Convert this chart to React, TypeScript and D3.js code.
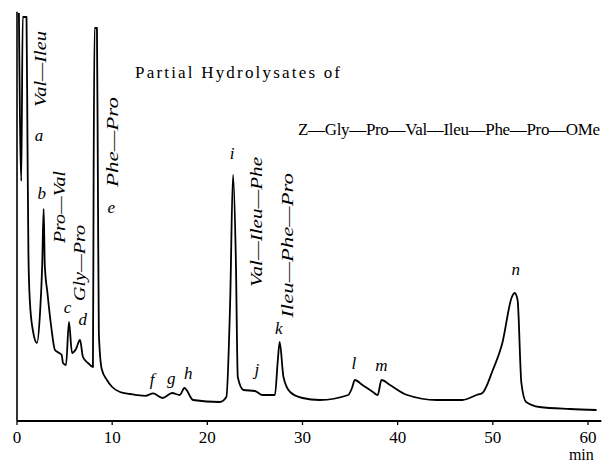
import React from 'react';
import * as d3 from 'd3';

// chromatogram trace, [minutes, detector signal]
const trace: [number, number][] = [
  [0.2, 102], [0.45, 60], [0.6, 101], [1.0, 101], [1.1, 70], [1.2, 42], [1.35, 30],
  [1.68, 22.5], [2.1, 19.5], [2.42, 27], [2.65, 39], [2.8, 53], [2.92, 39], [3.2, 32],
  [3.6, 23.5], [3.99, 17.75], [4.3, 17.2], [4.7, 16.5], [4.83, 14.5], [5.15, 14],
  [5.46, 24.75], [5.78, 17], [6.2, 18], [6.62, 20.25], [6.93, 16], [7.46, 14.5],
  [7.98, 13.5], [8.05, 60], [8.15, 98.25], [8.4, 98.25], [8.5, 60], [8.6, 22], [8.9, 13],
  [9.45, 10.25], [10.0, 8.5], [10.82, 7.25], [11.87, 6.75], [13.5, 6.3], [14.3, 6.9],
  [15.3, 5.75], [16.3, 7.0], [17.1, 6.5], [17.6, 8.25], [18.5, 5.25], [21.3, 4.75],
  [22.0, 6.0], [22.4, 30], [22.7, 61.5], [23.0, 40], [23.2, 11], [23.8, 7.75],
  [25.0, 7.5], [25.8, 6.5], [27.1, 6.5], [27.4, 15], [27.6, 19.75], [28.0, 11],
  [28.7, 7.25], [30.0, 5.75], [31.8, 5.25], [34.8, 6.5], [35.2, 8.25], [35.5, 10.25],
  [36.3, 9], [37.4, 7.25], [37.9, 6.5], [38.3, 10.25], [39.2, 9], [41.0, 6.5],
  [44.1, 5.25], [46.8, 5.25], [48.3, 6.5], [48.9, 7.0], [50.0, 12.75], [51.0, 19.5],
  [52.0, 31], [52.3, 32], [52.6, 30.25], [53.0, 9.5], [53.5, 4.75], [54.9, 3.5],
  [58.1, 3], [60.9, 2.75],
];

// peak letters: [letter, minutes, signal]
const peakLetters: [string, number, number][] = [
  ['a', 2.3, 70], ['b', 2.6, 55.5], ['c', 5.3, 27], ['d', 6.9, 24],
  ['e', 9.9, 52], ['f', 14.2, 9], ['g', 16.2, 9.2], ['h', 18.0, 10.5],
  ['i', 22.6, 65.5], ['j', 25.2, 11.5], ['k', 27.5, 21.8],
  ['l', 35.4, 13], ['m', 38.3, 12.5], ['n', 52.4, 36.5],
];

// fragment names, written upright along the peaks: [name, minutes, top signal, bottom signal]
const fragments: [string, number, number, number][] = [
  ['Val\u2014Ileu', 3.05, 97.5, 78.5],
  ['Pro\u2014Val', 5.05, 62.5, 44.5],
  ['Gly\u2014Pro', 7.15, 49, 30],
  ['Phe\u2014Pro', 10.6, 81, 58.5],
  ['Val\u2014Ileu\u2014Phe', 25.75, 66, 33.5],
  ['Ileu\u2014Phe\u2014Pro', 29.0, 62, 25.8],
];

const xTicks = [0, 10, 20, 30, 40, 50, 60];

const serif = "'Liberation Serif', 'Times New Roman', Times, serif";

const App = () => {
  const width = 606;
  const height = 462;

  const x = d3.scaleLinear().domain([0, 60]).range([17, 588]);
  const y = d3.scaleLinear().domain([0, 100]).range([421, 21]);

  const line = d3
    .line<[number, number]>()
    .x((d) => x(d[0]))
    .y((d) => y(d[1]))
    .curve(d3.curveMonotoneX);

  return (
    <div style={{ position: 'absolute', left: 0, top: 0 }}>
      <svg width={width} height={height} style={{ display: 'block', background: '#fff', fontFamily: serif }}>
        {/* axis */}
        <line x1={x(0)} x2={x(61.4)} y1={y(0)} y2={y(0)} stroke="#000" strokeWidth={1.8} />
        {xTicks.map((t) => (
          <g key={t}>
            <line x1={x(t)} x2={x(t)} y1={y(0)} y2={y(0) + 4} stroke="#000" strokeWidth={1.3} />
            <text x={x(t)} y={y(0) + 22} textAnchor="middle" fontSize={17}>
              {t}
            </text>
          </g>
        ))}
        <text x={x(59.3)} y={y(0) + 39} textAnchor="middle" fontSize={16}>
          min
        </text>

        {/* pen start */}
        <line x1={x(0)} x2={x(0)} y1={y(0)} y2={y(102.3)} stroke="#000" strokeWidth={1.6} />
        <path d={line(trace) ?? ''} fill="none" stroke="#000" strokeWidth={1.8} strokeLinejoin="round" />

        {peakLetters.map(([s, t, v]) => (
          <text key={s} x={x(t)} y={y(v)} textAnchor="middle" fontStyle="italic" fontSize={17}>
            {s}
          </text>
        ))}

        {fragments.map(([s, t, top, bottom]) => (
          <text
            key={s}
            transform={`translate(${x(t)},${y(bottom)}) rotate(-90)`}
            fontStyle="italic"
            fontSize={17}
            textLength={y(bottom) - y(top)}
            lengthAdjust="spacingAndGlyphs"
          >
            {s}
          </text>
        ))}

        <text x={135} y={78} fontSize={17} textLength={205} lengthAdjust="spacing">
          Partial Hydrolysates of
        </text>
        <text x={298} y={135} fontSize={17} textLength={302} lengthAdjust="spacing">
          Z{'\u2014'}Gly{'\u2014'}Pro{'\u2014'}Val{'\u2014'}Ileu{'\u2014'}Phe{'\u2014'}Pro{'\u2014'}OMe
        </text>
      </svg>
    </div>
  );
};

export default App;
